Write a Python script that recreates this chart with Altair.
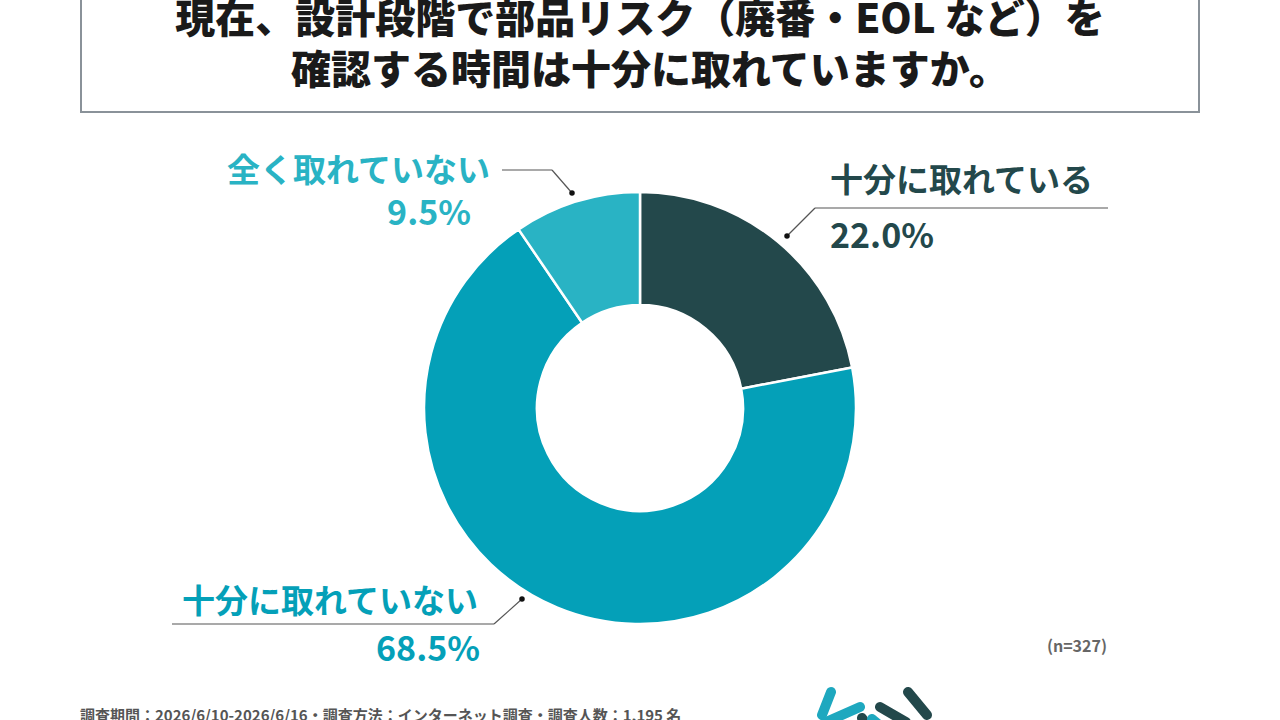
import altair as alt
import pandas as pd

# ---- data ----
categories = ["十分に取れている", "十分に取れていない", "全く取れていない"]
values = [22.0, 68.5, 9.5]
colors = ["#23484b", "#04a0b8", "#29b3c4"]
title_lines = ["現在、設計段階で部品リスク（廃番・EOL など）を", "確認する時間は十分に取れていますか。"]
n_note = "(n=327)"
footer = "調査期間：2026/6/10-2026/6/16・調査方法：インターネット調査・調査人数：1,195 名"

JP = "Noto Sans CJK JP"
W, H = 1280, 720
CX, CY, R_OUT, R_IN = 640, 408, 216, 103

df = pd.DataFrame({"cat": categories, "val": values, "order": list(range(len(categories)))})

pie = alt.Chart(df).mark_arc(stroke="white", strokeWidth=2.5).encode(
    theta=alt.Theta("val:Q", stack=True),
    order=alt.Order("order:Q"),
    color=alt.Color("cat:N", scale=alt.Scale(domain=categories, range=colors), legend=None),
    x=alt.value(CX), y=alt.value(CY),
    radius=alt.value(R_OUT), radius2=alt.value(R_IN),
)

# title box
box = alt.Chart(pd.DataFrame({"a": [0]})).mark_rect(
    fill="white", stroke="#8a9299", strokeWidth=2
).encode(x=alt.value(81), x2=alt.value(1199), y=alt.value(-10), y2=alt.value(112))

def txt(s, x, y, size, color, align="center", weight="bold"):
    return alt.Chart(pd.DataFrame({"t": [s]})).mark_text(
        font=JP, fontSize=size, fontWeight=weight, color=color, align=align, baseline="middle"
    ).encode(text="t:N", x=alt.value(x), y=alt.value(y))

title1 = txt(title_lines[0], 640, 21, 40, "#1a1a1a", weight=900)
title2 = txt(title_lines[1], 650, 72, 40, "#1a1a1a", weight=900)

pct = [f"{v:.1f}%" for v in values]
lab_layers = [
    txt(categories[0], 830, 182, 33, colors[0], align="left"),
    txt(pct[0], 830, 238, 34, colors[0], align="left"),
    txt(categories[1], 182, 603, 33, colors[1], align="left"),
    txt(pct[1], 480, 651, 34, colors[1], align="right"),
    txt(categories[2], 490, 172, 33, colors[2], align="right"),
    txt(pct[2], 471, 215, 34, colors[2], align="right"),
    txt(n_note, 1107, 647, 16, "#666666", align="right"),
    txt(footer, 80, 716, 15, "#555555", align="left"),
]

def seg(x1, y1, x2, y2, color="#555555", w=1.2, cap="butt"):
    return alt.Chart(pd.DataFrame({"a": [0]})).mark_rule(
        color=color, strokeWidth=w, strokeCap=cap
    ).encode(x=alt.value(x1), y=alt.value(y1), x2=alt.value(x2), y2=alt.value(y2))

leaders = [
    seg(815, 208, 1108, 208), seg(815, 208, 787, 236),
    seg(172, 624, 494, 624), seg(494, 624, 522, 599),
    seg(502, 170, 552, 170), seg(552, 170, 572, 193),
]

def dot(x, y):
    return alt.Chart(pd.DataFrame({"a": [0]})).mark_circle(
        color="#111111", size=30, opacity=1
    ).encode(x=alt.value(x), y=alt.value(y))

dots = [dot(787, 236), dot(522, 599), dot(572, 193)]

# partial logo at bottom
logo = [
    seg(831, 692, 822, 715, "#1ea8bf", 10, "round"),
    seg(860, 707, 826, 722, "#1ea8bf", 10, "round"),
    seg(908, 692, 927, 715, "#23484b", 10, "round"),
    seg(880, 707, 906, 722, "#23484b", 10, "round"),
    seg(862, 718, 866, 724, "#23484b", 10, "round"),
    seg(872, 719, 878, 724, "#1ea8bf", 10, "round"),
]

chart = alt.layer(
    box, title1, title2, pie, *leaders, *dots, *lab_layers, *logo
).properties(
    width=W, height=H, padding=0, autosize=alt.AutoSizeParams(type="none"),
    background="white",
).configure_view(stroke=None)

chart.save("out.html", embed_options={"renderer": "svg", "actions": False})
